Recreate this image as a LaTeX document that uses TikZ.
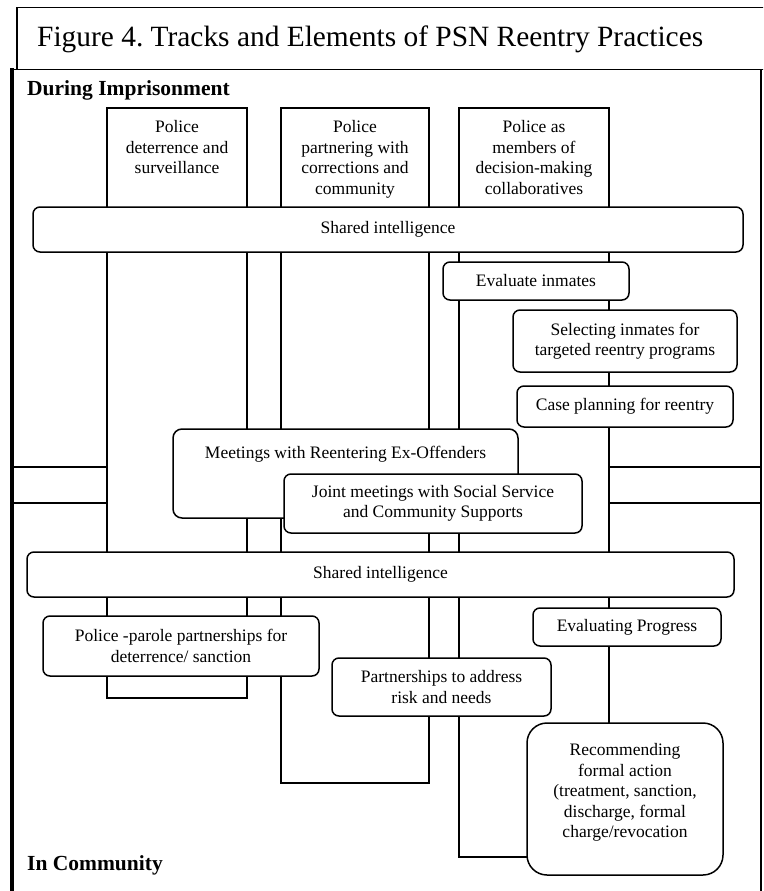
\documentclass[tikz,border=0pt]{standalone}
\usepackage{fontspec}
\setmainfont{Liberation Serif}
\frenchspacing
\newcommand\figbody{\fontsize{17.5}{20.5}\selectfont}
\newcommand\figtitle{\fontsize{29.4}{35}\selectfont}
\newcommand\fighead{\fontsize{21.5}{25}\selectfont\bfseries}
\begin{document}
\begin{tikzpicture}[x=1pt,y=-1pt,
  line/.style={line width=1.5pt},
  track/.style={draw, line width=1.5pt, inner sep=0pt},
  rbox/.style={draw, line width=1.5pt, fill=white, rounded corners=7pt,
    inner sep=0pt, align=center, font=\figbody},
  txt/.style={inner sep=0pt, align=center, font=\figbody},
  head/.style={inner sep=0pt, font=\fighead, anchor=base west}]
\useasboundingbox (0,0) rectangle (763,891);
\clip (0,0) rectangle (763,891);

% title panel
\draw[line] (17,69.5) -- (17,7.5) -- (775,7.5);
\node[inner sep=0pt, anchor=base west, font=\figtitle] (title) at (37,47)
  {Figure 4. Tracks and Elements of PSN Reentry Practices};

% outer frame
\draw[line] (12,69.5) -- (775,69.5);
\draw[line] (761,69.5) -- (761,900);
\draw[line width=3.6pt] (12,900) -- (12,67.7);

% the three vertical tracks
\node[track, minimum width=140, minimum height=590] (tr1) at (177,403) {};
\node[track, minimum width=148, minimum height=675] (tr2) at (355,445.5) {};
\node[track, minimum width=150, minimum height=749] (tr3) at (534,482.5) {};

\node[txt, anchor=north] (h1) at ([yshift=-13pt]tr1.north)
  {Police\\deterrence and\\surveillance};
\node[txt, anchor=north] (h2) at ([yshift=-13pt]tr2.north)
  {Police\\partnering with\\corrections and\\community};
\node[txt, anchor=north] (h3) at ([yshift=-13pt]tr3.north)
  {Police as\\members of\\decision-making\\collaboratives};

% band between imprisonment and community
\coordinate (bl1) at (12,467);
\coordinate (bl2) at (12,503);
\coordinate (br1) at (761,467);
\coordinate (br2) at (761,503);
\draw[line] (bl1) -- (tr1.west |- bl1);
\draw[line] (bl2) -- (tr1.west |- bl2);
\draw[line] (tr3.east |- br1) -- (br1);
\draw[line] (tr3.east |- br2) -- (br2);

% phase labels
\node[head] (during) at (27,95) {During Imprisonment};
\node[head] (incomm) at (27,870) {In Community};

% elements
\node[rbox, minimum width=710, minimum height=45] (si1) at (388,229.5)
  {Shared intelligence};
\node[rbox, minimum width=186, minimum height=38] (evi) at (536,281)
  {Evaluate inmates};
\node[rbox, minimum width=224, minimum height=62] (sel) at (625,341)
  {Selecting inmates for\\targeted reentry programs};
\node[rbox, minimum width=216, minimum height=41] (cas) at (625,406.5)
  {Case planning for reentry};
\node[rbox, rounded corners=9pt, minimum width=345, minimum height=89] (mee) at (345.5,473.5) {};
\node[txt, anchor=north] (meet) at ([yshift=-18pt]mee.north)
  {Meetings with Reentering Ex-Offenders};
\node[rbox, minimum width=298, minimum height=59] (joi) at (433,503.5)
  {Joint meetings with Social Service\\and Community Supports};
\node[rbox, minimum width=707, minimum height=45] (si2) at (380.5,574.5)
  {Shared intelligence};
\node[rbox, minimum width=276, minimum height=60] (par) at (181,646)
  {Police -parole partnerships for\\deterrence/ sanction};
\node[rbox, minimum width=219, minimum height=58] (prt) at (441.5,687)
  {Partnerships to address\\risk and needs};
\node[rbox, minimum width=188, minimum height=38] (evp) at (627,627)
  {Evaluating Progress};
\node[rbox, rounded corners=20pt, minimum width=196, minimum height=152] (rec) at (625,799) {};
\node[txt, anchor=north] (rect) at ([yshift=-21pt]rec.north)
  {Recommending\\formal action\\(treatment, sanction,\\discharge, formal\\charge/revocation};
\end{tikzpicture}
\end{document}
